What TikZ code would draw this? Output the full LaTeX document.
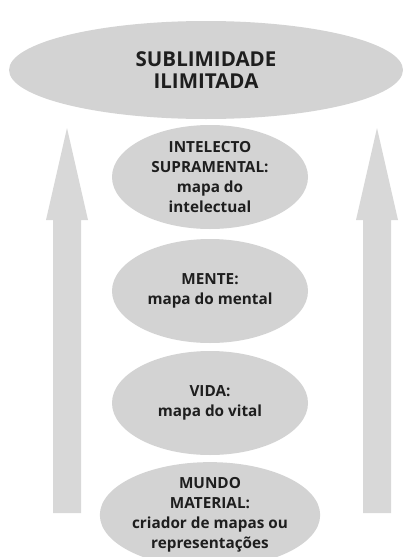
\documentclass[tikz,border=0pt]{standalone}
\usepackage{fontspec}
\setmainfont{Open Sans}
\usetikzlibrary{shapes.geometric}
\definecolor{elgray}{RGB}{211,211,211}
\definecolor{argray}{RGB}{216,216,216}
\definecolor{txtc}{RGB}{30,30,30}
\begin{document}
\begin{tikzpicture}[x=1pt,y=-1pt,
  oval/.style={ellipse, fill=elgray, inner sep=0pt, minimum width=196pt, minimum height=104pt,
    align=center, text=txtc, font=\fontsize{15.3}{20}\selectfont\bfseries},
  bigoval/.style={ellipse, fill=elgray, inner sep=0pt, minimum width=394pt, minimum height=98pt,
    align=center, text=txtc, font=\fontsize{20.5}{22.5}\selectfont\bfseries},
  uparrow/.style={fill=argray}]
\useasboundingbox (0,0) rectangle (403,557);
% arrows
\coordinate (lb) at (60,513);
\coordinate (rb) at (370,513);
\fill[uparrow] (lb) ++(-7,0) -- ++(0,-293) -- ++(-7,0) -- ++(21,-92) -- ++(21,92) -- ++(-7,0) -- ++(0,293) -- cycle;
\fill[uparrow] (rb) ++(-7,0) -- ++(0,-293) -- ++(-7,0) -- ++(21,-92) -- ++(21,92) -- ++(-7,0) -- ++(0,293) -- cycle;
% ovals
\node[bigoval] (sub) at (206,70) {SUBLIMIDADE\\ILIMITADA};
\node[oval] (int) at (210,177) {INTELECTO\\SUPRAMENTAL:\\mapa do\\intelectual};
\node[oval] (men) at (210,291) {MENTE:\\mapa do mental};
\node[oval] (vid) at (210,403) {VIDA:\\mapa do vital};
\node[oval] (mun) at (210,515) {MUNDO\\MATERIAL:\\criador de mapas ou\\representações};
\end{tikzpicture}
\end{document}
